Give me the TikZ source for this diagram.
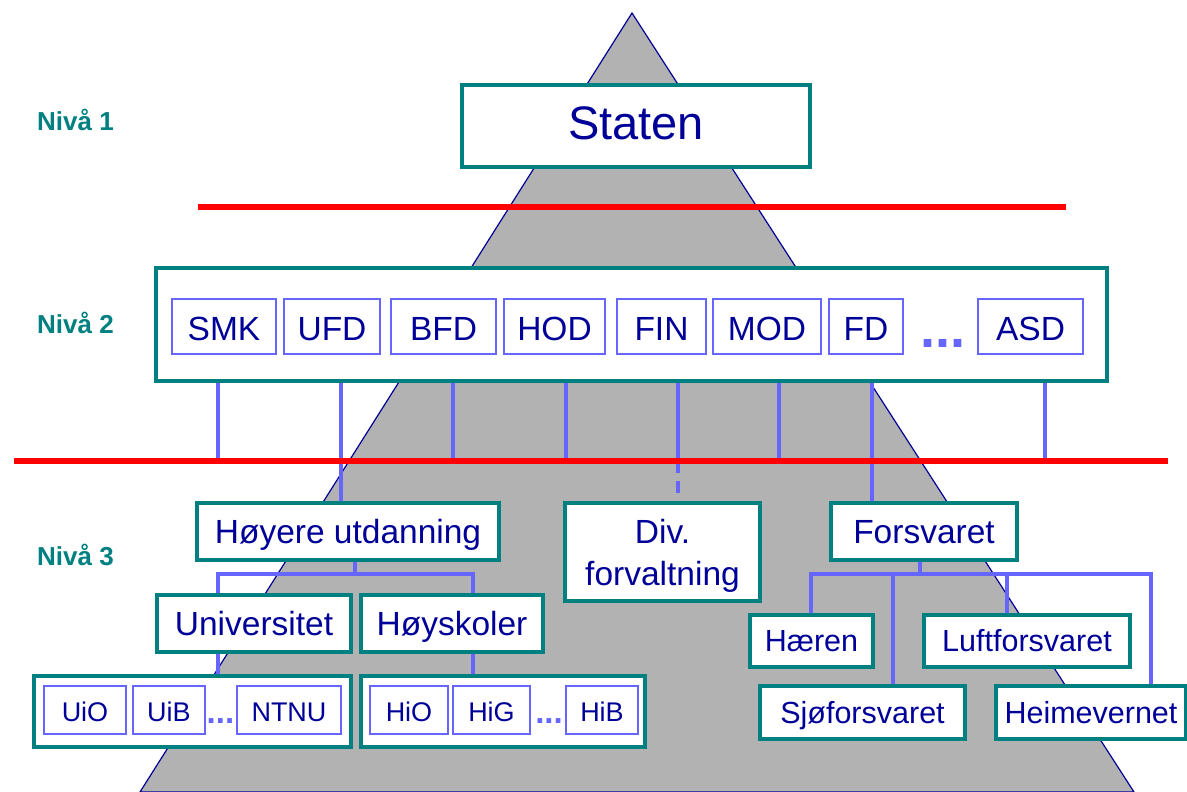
\documentclass[tikz,border=0pt]{standalone}
\usepackage{fontspec}
\setmainfont{Liberation Sans}
\definecolor{tealbox}{RGB}{0,128,128}
\definecolor{navytext}{RGB}{0,0,153}
\definecolor{linkblue}{RGB}{102,102,255}
\definecolor{pyramid}{RGB}{178,178,178}
\begin{document}
\begin{tikzpicture}[x=1pt,y=-1pt,
		bigbox/.style={draw=tealbox,line width=3.2pt,fill=white,inner sep=0pt,text=navytext,align=center,
			text height=24pt,text depth=0pt,font=\fontsize{33.5}{42}\selectfont},
		armbox/.style={bigbox,minimum height=52pt,text height=21.8pt,font=\fontsize{30.5}{36}\selectfont},
		depbox/.style={draw=linkblue,line width=2.5pt,fill=white,inner sep=0pt,text=navytext,minimum height=55pt,
			text height=28.4pt,text depth=0pt,font=\fontsize{33.5}{38}\selectfont},
		schoolbox/.style={depbox,minimum height=48pt,text height=22pt,font=\fontsize{27}{32}\selectfont},
		dots/.style={text=linkblue,anchor=base,inner sep=0pt,font=\bfseries},
		link/.style={draw=linkblue,line width=3.2pt},
		redline/.style={draw=red,line width=5.5pt},
		nivaa/.style={text=tealbox,anchor=west,inner sep=0pt,font=\bfseries\fontsize{26}{30}\selectfont}]
		\useasboundingbox (0,0) rectangle (1187,792);

		% the pyramid behind everything
		\filldraw [fill=pyramid,draw=navytext,line width=1.2pt] (632,13) -- (140,792) -- (1134,792) -- cycle;

		\node [nivaa] (n1) at (37,120) {Nivå 1};
		\node [nivaa] (n2) at (37,323) {Nivå 2};
		\node [nivaa] (n3) at (37,555) {Nivå 3};

		\coordinate (redA1) at (198,207);
		\coordinate (redA2) at (1066,207);
		\coordinate (redB1) at (14,461);
		\coordinate (redB2) at (1168,461);

		% level 1
		\node [bigbox,minimum width=348pt,minimum height=82pt,text height=33.6pt,text depth=7pt,font=\fontsize{47}{52}\selectfont] (staten) at (636,126) {Staten};

		% level 2
		\node [bigbox,minimum width=951pt,minimum height=113pt] (lvl2) at (631.5,324.5) {};
		\foreach \n/\x/\w/\t in {smk/224/104/SMK, ufd/332/96/UFD, bfd/443.5/105/BFD, hod/554.5/101/HOD,
				fin/661.5/89/FIN, mod/767/108/MOD, fd/866/74/FD, asd/1030.5/105/ASD} {
			\node [depbox,minimum width=\w pt] (\n) at (\x,326.5) {\t};
		}
		\node [dots,font=\bfseries\fontsize{54}{60}\selectfont] (dep-dots) at (942.5,347) {...};

		% level 3
		\node [bigbox,minimum width=302pt,minimum height=57pt] (hu) at (348,531.5) {Høyere utdanning};
		\node [bigbox,minimum width=195pt,minimum height=98pt,text height=66pt] (div) at (662.5,552) {Div.\\forvaltning};
		\node [bigbox,minimum width=186pt,minimum height=57pt] (forsv) at (924,531.5) {Forsvaret};

		\node [bigbox,minimum width=194pt,minimum height=57pt] (univ) at (254,623.5) {Universitet};
		\node [bigbox,minimum width=182pt,minimum height=57pt] (hoysk) at (452,623.5) {Høyskoler};

		\node [bigbox,minimum width=317pt,minimum height=71pt] (unigrp) at (192.5,711.5) {};
		\node [bigbox,minimum width=284pt,minimum height=71pt] (higrp) at (503,711.5) {};
		\foreach \n/\x/\w/\t in {uio/85/82/UiO, uib/169/72/UiB, ntnu/289/104/NTNU,
				hio/409/78/HiO, hig/491.5/77/HiG, hib/602/72/HiB} {
			\node [schoolbox,minimum width=\w pt] (\n) at (\x,710) {\t};
		}
		\node [dots,font=\bfseries\fontsize{33}{36}\selectfont] (uni-dots) at (220.5,723) {...};
		\node [dots,font=\bfseries\fontsize{33}{36}\selectfont] (hi-dots) at (549,723) {...};

		\node [armbox,minimum width=123pt] (haeren) at (811.5,641) {Hæren};
		\node [armbox,minimum width=206pt] (luft) at (1027,641) {Luftforsvaret};
		\node [armbox,minimum width=205pt,minimum height=53pt] (sjo) at (862.5,712.5) {Sjøforsvaret};
		\node [armbox,minimum width=190pt,minimum height=53pt] (heim) at (1091,712.5) {Heimevernet};

		% connectors
		\foreach \x in {218,453,566,678,779,1045} {
			\draw [link] (lvl2.south -| \x,0) -- (redB1 -| \x,0);
		}
		\draw [link] (lvl2.south -| 341,0) -- (hu.north -| 341,0);
		\draw [link] (lvl2.south -| 872,0) -- (forsv.north -| 872,0);
		\coordinate (divend) at (678,495);
		\draw [link,dash pattern=on 12pt off 8pt] (redB1 -| divend) -- (divend);

		\coordinate (hubar) at (355,574);
		\draw [link] (hu.south -| hubar) -- (hubar);
		\draw [link] (univ.north -| 218,0) -- (hubar -| 218,0) -- (hubar -| 473,0) -- (hoysk.north -| 473,0);
		\draw [link] (univ.south -| 218,0) -- (unigrp.north -| 218,0);
		\draw [link] (hoysk.south -| 473,0) -- (higrp.north -| 473,0);

		\coordinate (fbar) at (920,574);
		\draw [link] (forsv.south -| fbar) -- (fbar);
		\draw [link] (haeren.north -| 811,0) -- (fbar -| 811,0) -- (fbar -| 1151,0) -- (heim.north -| 1151,0);
		\draw [link] (sjo.north -| 893,0) -- (fbar -| 893,0);
		\draw [link] (luft.north -| 1007,0) -- (fbar -| 1007,0);

		\draw [redline] (redA1) -- (redA2);
		\draw [redline] (redB1) -- (redB2);
	\end{tikzpicture}
\end{document}
